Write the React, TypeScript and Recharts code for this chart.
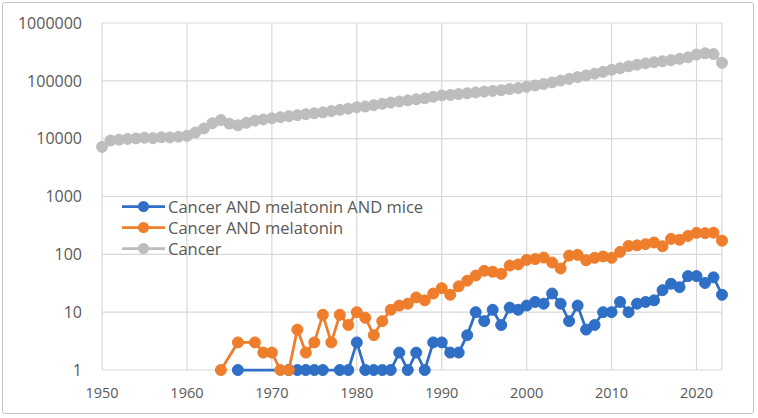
import React from 'react'
import { LineChart, Line, XAxis, YAxis, CartesianGrid } from 'recharts'

// publication counts per year (log scale)
const YEARS = [
  1950, 1951, 1952, 1953, 1954, 1955, 1956, 1957, 1958, 1959,
  1960, 1961, 1962, 1963, 1964, 1965, 1966, 1967, 1968, 1969,
  1970, 1971, 1972, 1973, 1974, 1975, 1976, 1977, 1978, 1979,
  1980, 1981, 1982, 1983, 1984, 1985, 1986, 1987, 1988, 1989,
  1990, 1991, 1992, 1993, 1994, 1995, 1996, 1997, 1998, 1999,
  2000, 2001, 2002, 2003, 2004, 2005, 2006, 2007, 2008, 2009,
  2010, 2011, 2012, 2013, 2014, 2015, 2016, 2017, 2018, 2019,
  2020, 2021, 2022, 2023,
]

const CANCER = [
  7200, 9300, 9600, 9900, 10100, 10400, 10200, 10600, 10500, 10800,
  11200, 12800, 15000, 18500, 21000, 18200, 17000, 18800, 20500, 21500,
  22500, 23500, 24500, 25500, 26500, 27500, 28500, 30000, 31500, 33000,
  35000, 36000, 38000, 40000, 42000, 44000, 46000, 48000, 50000, 53000,
  56000, 57000, 59000, 61000, 63000, 65000, 67000, 69000, 72000, 75000,
  79000, 83000, 88000, 94000, 101000, 108000, 116000, 124000, 133000, 143000,
  155000, 165000, 178000, 190000, 200000, 210000, 218000, 228000, 240000, 255000,
  285000, 300000, 290000, 205000,
]

const MELATONIN = [
  null, null, null, null, null, null, null, null, null, null,
  null, null, null, null, 1, null, 3, null, 3, 2,
  2, 1, 1, 5, 2, 3, 9, 3, 9, 6,
  10, 8, 4, 7, 11, 13, 14, 18, 16, 21,
  26, 20, 28, 35, 43, 52, 50, 46, 64, 67,
  80, 83, 88, 72, 57, 95, 98, 79, 87, 92,
  87, 110, 140, 143, 150, 160, 138, 185, 178, 208,
  235, 232, 237, 172,
]

const MICE = [
  null, null, null, null, null, null, null, null, null, null,
  null, null, null, null, null, null, 1, null, null, null,
  null, null, 1, 1, 1, 1, 1, null, 1, 1,
  3, 1, 1, 1, 1, 2, 1, 2, 1, 3,
  3, 2, 2, 4, 10, 7, 11, 6, 12, 11,
  13, 15, 14, 21, 14, 7, 13, 5, 6, 10,
  10, 15, 10, 14, 15, 16, 24, 31, 27, 42,
  42, 32, 40, 20,
]

const X_TICKS = [1950, 1960, 1970, 1980, 1990, 2000, 2010, 2020]
const Y_TICKS = [1, 10, 100, 1000, 10000, 100000, 1000000]

const SERIES = [
  { key: 'mice', name: 'Cancer AND melatonin AND mice', color: '#2f6fc6' },
  { key: 'melatonin', name: 'Cancer AND melatonin', color: '#ee7d2c' },
  { key: 'cancer', name: 'Cancer', color: '#bdbdbd' },
]

const data = YEARS.map((year, i) => ({
  year,
  mice: MICE[i],
  melatonin: MELATONIN[i],
  cancer: CANCER[i],
}))

const TEXT = '#595959'

const ChartLegend = () => (
  <div style={{ position: 'absolute', left: 120, top: 196 }}>
    {SERIES.map((s) => (
      <div key={s.key} style={{ display: 'flex', alignItems: 'center', height: 21 }}>
        <svg width={47} height={21}>
          <line x1={2} y1={10.5} x2={45} y2={10.5} stroke={s.color} strokeWidth={2.75} />
          <circle cx={23.5} cy={10.5} r={5.5} fill={s.color} />
        </svg>
        <span style={{ fontSize: 16.5, color: TEXT, marginLeft: 1, whiteSpace: 'nowrap' }}>{s.name}</span>
      </div>
    ))}
  </div>
)

export default function App() {
  return (
    <div
      style={{
        position: 'absolute',
        left: 0,
        top: 0,
        width: 758,
        height: 418,
        background: '#fff',
        fontFamily: '"Open Sans", sans-serif',
      }}
    >
      <div
        style={{
          position: 'absolute',
          left: 2,
          top: 2,
          width: 750,
          height: 410,
          border: '1px solid #c4c4c4',
          borderRadius: 3,
        }}
      />
      <LineChart width={758} height={418} data={data} margin={{ top: 23, right: 36, bottom: 0, left: 0 }}>
        <CartesianGrid stroke="#d9d9d9" strokeWidth={1.2} />
        <XAxis
          dataKey="year"
          type="number"
          domain={[1950, 2023]}
          ticks={X_TICKS}
          height={48}
          axisLine={false}
          tickLine={false}
          tickSize={0}
          tickMargin={18}
          tick={{ fill: TEXT, fontSize: 14.5 }}
        />
        <YAxis
          type="number"
          scale="log"
          domain={[1, 1000000]}
          ticks={Y_TICKS}
          width={102}
          axisLine={false}
          tickLine={false}
          tickSize={0}
          tickMargin={20}
          tick={{ fill: TEXT, fontSize: 16 }}
        />
        {SERIES.map((s) => (
          <Line
            key={s.key}
            dataKey={s.key}
            name={s.name}
            stroke={s.color}
            strokeWidth={2.75}
            dot={{ r: 5.5, fill: s.color, stroke: s.color, strokeWidth: 1 }}
            activeDot={false}
            connectNulls
            isAnimationActive={false}
          />
        ))}
      </LineChart>
      <ChartLegend />
    </div>
  )
}
